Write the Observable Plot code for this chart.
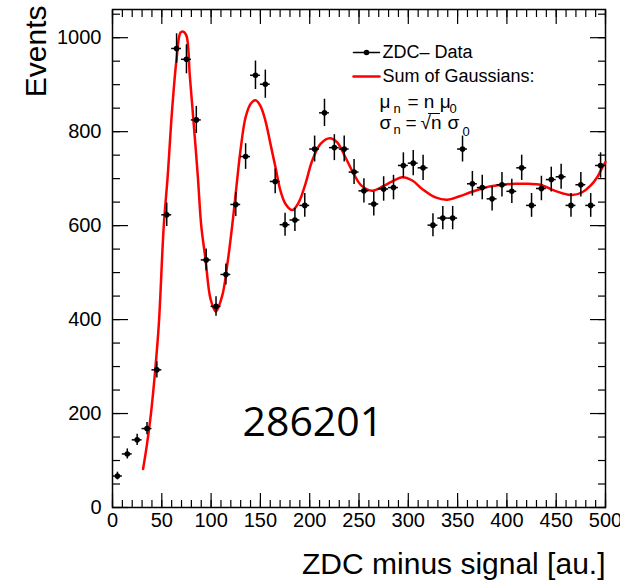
<!DOCTYPE html>
<html><head><meta charset="utf-8">
<script src="https://cdn.jsdelivr.net/npm/d3@7"></script>
<script src="https://cdn.jsdelivr.net/npm/@observablehq/plot@0.6"></script>
<style>body{margin:0;background:#fff;}</style>
</head><body><div id="chart"></div>
<script>
// ---- data ----
const binCenters = [5,15,25,35,45,55,65,75,85,95,105,115,125,135,145,155,165,175,185,195,205,215,225,235,245,255,265,275,285,295,305,315,325,335,345,355,365,375,385,395,405,415,425,435,445,455,465,475,485,495];
const counts = [67,114,144,168,293,623,977,954,825,527,428,496,645,747,920,901,694,602,612,643,763,840,766,763,714,674,646,678,681,728,733,723,601,616,616,763,689,681,657,687,673,723,643,679,698,704,643,687,643,728];
const fitX = [31,35,39,43,47,52,56,60.5,65,69,71.7,75,78.4,82.5,86.5,90,94.3,99.4,104.8,111.3,116.3,121.4,125.8,129.8,134.9,140,145,150,155.1,160.2,165.3,170.4,175.5,182.3,189,195.7,202.5,211,220.4,227.9,236.3,244.7,252.5,263.4,273.5,283.7,293.8,304,314.1,327.6,339.5,351.2,363.1,373.2,381.6,395.2,408.7,422.2,434.1,444.2,456.1,466.2,476.4,484.8,491.6,496.6,500];
const fitY = [82,135,200,285,391,600,706,848,955,1011,1013,1004,919,813,706,600,529,444,417,451,515,600,685,760,830,859,867,855,823,774,724,674,646,633,650,689,738,774,786,777,745,710,685,674,683,694,703,696,678,660,655,662,671,678,683,687,689,689,687,678,669,665,671,685,703,723,735];
const xMajorTicks = [0,50,100,150,200,250,300,350,400,450,500];
const yMajorTicks = [0,200,400,600,800,1000];
const xMinorTicks = d3.range(0, 501, 10);
const yMinorTicks = d3.range(0, 1060, 50);
const xTitle = "ZDC minus signal [au.]";
const yTitle = "Events";
const legendData = "ZDC\u2013 Data";
const legendFit = "Sum of Gaussians:";
const runLabel = "286201";

const data = binCenters.map((x, i) => ({x, c: counts[i]}));
const fit = fitX.map((x, i) => ({x, y: fitY[i]}));
const halfBin = 5;

const sans = "'Liberation Sans', Arial, Helvetica, sans-serif";
const lineShape = {draw(ctx, l) { ctx.moveTo(0, 0); ctx.lineTo(0, -l); }};
const tl = (text, dx, dy, o = {}) => Plot.text([text], {text: d => d, frameAnchor: "top-left", dx, dy, textAnchor: "start", lineAnchor: "bottom", fontSize: 18, fill: "black", ...o});
const hline = (dx, dy, length, o = {}) => Plot.vector([0], {frameAnchor: "top-left", dx, dy, length, rotate: 90, anchor: "start", shape: lineShape, stroke: "black", strokeWidth: 1.5, ...o});

const chart = Plot.plot({
  width: 620, height: 582,
  marginLeft: 112, marginRight: 15, marginTop: 9, marginBottom: 75,
  style: {fontFamily: sans, background: "white", color: "black"},
  x: {domain: [0, 500]},
  y: {domain: [0, 1060]},
  marks: [
    // ticks (ROOT style, inward on all four sides)
    Plot.axisX(xMinorTicks, {anchor: "bottom", tickSize: -7, tickFormat: () => "", label: null, strokeWidth: 1.2}),
    Plot.axisX(xMajorTicks, {anchor: "bottom", tickSize: -14, tickPadding: 19, fontSize: 20, label: null, strokeWidth: 1.2}),
    Plot.axisX(xMinorTicks, {anchor: "top", tickSize: -7, tickFormat: () => "", label: null, strokeWidth: 1.2}),
    Plot.axisX(xMajorTicks, {anchor: "top", tickSize: -14, tickFormat: () => "", label: null, strokeWidth: 1.2}),
    Plot.axisY(yMinorTicks, {anchor: "left", tickSize: -8, tickFormat: () => "", label: null, strokeWidth: 1.2}),
    Plot.axisY(yMajorTicks, {anchor: "left", tickSize: -16, tickPadding: 27, fontSize: 20, tickFormat: "d", label: null, strokeWidth: 1.2}),
    Plot.axisY(yMinorTicks, {anchor: "right", tickSize: -8, tickFormat: () => "", label: null, strokeWidth: 1.2}),
    Plot.axisY(yMajorTicks, {anchor: "right", tickSize: -16, tickFormat: () => "", label: null, strokeWidth: 1.2}),
    Plot.frame({stroke: "black", strokeWidth: 1.5}),
    // axis titles
    Plot.text([xTitle], {text: d => d, frameAnchor: "bottom-right", dy: 66, textAnchor: "end", lineAnchor: "bottom", fontSize: 30, fill: "black"}),
    Plot.text([yTitle], {text: d => d, frameAnchor: "top-left", dx: -67, dy: -4, rotate: -90, textAnchor: "end", lineAnchor: "bottom", fontSize: 30, fill: "black"}),
    // fit
    Plot.line(fit, {x: "x", y: "y", stroke: "#ff0000", strokeWidth: 2.5, curve: "catmull-rom"}),
    // data with errors
    Plot.ruleX(data, {x: "x", y1: d => d.c - Math.sqrt(d.c), y2: d => d.c + Math.sqrt(d.c), stroke: "black", strokeWidth: 1.5}),
    Plot.ruleY(data, {y: "c", x1: d => d.x - halfBin, x2: d => d.x + halfBin, stroke: "black", strokeWidth: 1.5}),
    Plot.dot(data, {x: "x", y: "c", r: 2.8, fill: "black"}),
    // legend
    hline(241, 43, 26),
    Plot.dot([0], {frameAnchor: "top-left", dx: 254, dy: 43, r: 2.8, fill: "black"}),
    tl(legendData, 270, 43, {lineAnchor: "middle"}),
    hline(241, 67, 26, {stroke: "#ff0000", strokeWidth: 2.5}),
    tl(legendFit, 270, 67, {lineAnchor: "middle"}),
    tl("\u03bc", 267, 98, {fontSize: 19}),
    tl("n", 281, 103, {fontSize: 13}),
    tl("= n \u03bc", 295, 98, {fontSize: 19}),
    tl("0", 337, 103, {fontSize: 13}),
    tl("\u03c3", 267, 119, {fontSize: 19}),
    tl("n", 281, 124, {fontSize: 13}),
    tl("=", 293, 119, {fontSize: 19}),
    tl("\u221an", 308, 119, {fontSize: 19}),
    hline(316, 104, 11, {strokeWidth: 1.2}),
    tl("\u03c3", 335, 119, {fontSize: 19}),
    tl("0", 350, 126, {fontSize: 13}),
    // run number
    tl(runLabel, 130, 426, {fontSize: 41, fontFamily: "'Open Sans', sans-serif"})
  ]
});
document.getElementById("chart").append(chart);
</script>
</body></html>
